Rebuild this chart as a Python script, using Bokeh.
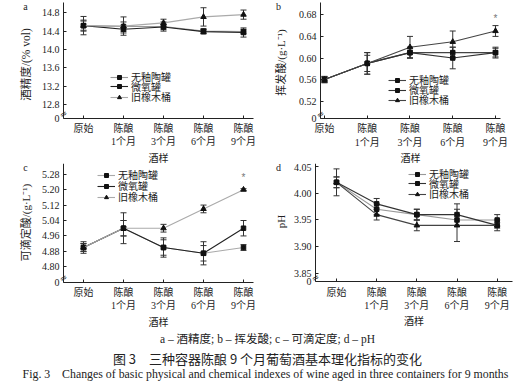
import math
from bokeh.plotting import figure
from bokeh.layouts import column, row
from bokeh.models import (FixedTicker, PrintfTickFormatter, Range1d, Whisker, TeeHead,
                          ColumnDataSource, Legend, LegendItem, Label, LinearAxis, Grid)
from bokeh.embed import file_html
from bokeh.resources import INLINE

# ---------------- data ----------------
stages = ["原始", "陈酿\n1个月", "陈酿\n3个月", "陈酿\n6个月", "陈酿\n9个月"]
xpos = [0, 1, 2, 3, 4]
series_names = ["无釉陶罐", "微氧罐", "旧橡木桶"]

a_tao = [14.52, 14.50, 14.50, 14.40, 14.39]
a_tao_err = [0.20, 0.10, 0.10, 0.05, 0.05]
a_mo = [14.52, 14.44, 14.49, 14.39, 14.37]
a_mo_err = [0.12, 0.08, 0.06, 0.05, 0.10]
a_oak = [14.52, 14.51, 14.58, 14.71, 14.76]
a_oak_err = [0.10, 0.20, 0.08, 0.20, 0.10]
a_ticks = [12.8, 13.2, 13.6, 14.0, 14.4, 14.8]

b_tao = [0.56, 0.59, 0.61, 0.61, 0.61]
b_tao_err = [0.005, 0.015, 0.01, 0.01, 0.01]
b_mo = [0.56, 0.59, 0.61, 0.60, 0.61]
b_mo_err = [0.005, 0.02, 0.01, 0.02, 0.008]
b_oak = [0.56, 0.59, 0.62, 0.63, 0.65]
b_oak_err = [0.006, 0.02, 0.02, 0.02, 0.01]
b_oak_sig = ["", "", "", "", "*"]
b_ticks = [0.52, 0.56, 0.60, 0.64, 0.68]

c_tao = [4.90, 5.00, 4.90, 4.87, 4.90]
c_tao_err = [0.03, 0.08, 0.05, 0.06, 0.015]
c_mo = [4.90, 5.00, 4.90, 4.87, 5.00]
c_mo_err = [0.02, 0.04, 0.04, 0.04, 0.04]
c_oak = [4.90, 5.00, 5.00, 5.10, 5.20]
c_oak_err = [0.02, 0.04, 0.02, 0.02, 0.005]
c_oak_sig = ["", "", "", "", "*"]
c_ticks = [4.80, 4.88, 4.96, 5.04, 5.12, 5.20, 5.28]

d_tao = [4.02, 3.97, 3.96, 3.95, 3.95]
d_tao_err = [0.025, 0.01, 0.01, 0.01, 0.01]
d_mo = [4.02, 3.98, 3.96, 3.96, 3.94]
d_mo_err = [0.01, 0.01, 0.01, 0.02, 0.01]
d_oak = [4.02, 3.96, 3.94, 3.94, 3.94]
d_oak_err = [0.01, 0.01, 0.01, 0.03, 0.005]
d_ticks = [3.85, 3.90, 3.95, 4.00, 4.05]

caption1 = "a – 酒精度; b – 挥发酸; c – 可滴定度; d – pH"
caption2 = "图 3\u2003三种容器陈酿 9 个月葡萄酒基本理化指标的变化"
caption3 = "Fig. 3\u2003Changes of basic physical and chemical indexes of wine aged in three containers for 9 months"

SERIF = "Liberation Serif, Noto Sans CJK SC"
CJK = "Noto Sans CJK SC"
INK = "#222222"


def text_legend(p, renderers, label, x, yc):
    """A one-item legend whose row is centred yc px above the canvas bottom."""
    leg = Legend(items=[LegendItem(label=label, renderers=renderers)],
                 location=(x, yc - 7), border_line_color=None,
                 background_fill_alpha=0, label_text_font=SERIF,
                 label_text_font_size="10px", label_text_color=INK,
                 glyph_width=18, glyph_height=10, label_height=14,
                 spacing=0, padding=0, margin=0, label_standoff=3)
    p.add_layout(leg)


def style_axis(ax):
    ax.major_tick_in = 3
    ax.major_tick_out = 0
    ax.minor_tick_line_color = None
    ax.axis_line_color = INK
    ax.major_tick_line_color = INK
    ax.major_label_text_font = SERIF
    ax.major_label_text_font_size = "10px"
    ax.major_label_text_color = INK
    ax.axis_label_text_font = SERIF
    ax.axis_label_text_font_style = "normal"
    ax.axis_label_text_color = INK


def make_panel(tag, ylabel, series, colors, ticks, fmt, yr, xr, ybounds, xbounds,
               height, leg_x, leg_rows, tag_xy, ylab_xy, ylab_size, sig=None):
    p = figure(width=265, height=height, toolbar_location=None, output_backend="svg",
               x_range=Range1d(*xr), y_range=Range1d(*yr),
               x_axis_location=None, y_axis_location=None, min_border=0)
    p.outline_line_color = None
    for r in p.center:
        if isinstance(r, Grid):
            r.visible = False

    xax = LinearAxis(fixed_location=ybounds[0], bounds=xbounds,
                     ticker=FixedTicker(ticks=xpos),
                     major_label_overrides={x: s for x, s in zip(xpos, stages)})
    style_axis(xax)
    xax.major_label_standoff = 5
    xax.axis_label = "酒样"
    xax.axis_label_text_font_size = "10px"
    xax.axis_label_standoff = 2
    p.add_layout(xax, "below")

    yax = LinearAxis(fixed_location=xbounds[0], bounds=ybounds,
                     ticker=FixedTicker(ticks=[ybounds[0]] + ticks),
                     formatter=PrintfTickFormatter(format=fmt),
                     major_label_overrides={ybounds[0]: "0"})
    style_axis(yax)
    yax.major_label_standoff = 4
    p.add_layout(yax, "left")
    # y-axis title, placed beside the axis
    p.add_layout(Label(x=ylab_xy[0], y=ylab_xy[1], x_units="screen", y_units="screen",
                       text=ylabel, angle=math.pi / 2, text_font=SERIF,
                       text_font_size=ylab_size, text_align="center",
                       text_baseline="middle", text_color=INK))

    markers = ["square", "square", "triangle"]
    msizes = [4.5, 4.5, 5.5]
    for (vals, errs), name, col, mk, ms, yc in zip(series, series_names, colors, markers,
                                                    msizes, leg_rows):
        src = ColumnDataSource(dict(x=xpos, y=vals,
                                    u=[v + e for v, e in zip(vals, errs)],
                                    l=[v - e for v, e in zip(vals, errs)]))
        w = Whisker(base="x", upper="u", lower="l", source=src, line_color="#333333",
                    line_width=1,
                    upper_head=TeeHead(size=6, line_color="#333333", line_width=1),
                    lower_head=TeeHead(size=6, line_color="#333333", line_width=1))
        p.add_layout(w)
        lr = p.line("x", "y", source=src, line_color=col, line_width=1.1)
        sr = p.scatter("x", "y", source=src, marker=mk, size=ms, fill_color="#111111",
                       line_color="#111111")
        text_legend(p, [lr, sr], name, leg_x, yc)

    if sig is not None:
        vals, marks = sig
        p.text(x=xpos, y=vals, text=marks, y_offset=-7, text_align="center",
               text_baseline="bottom", text_font_size="10px", text_color="#777777")

    # panel tag
    p.add_layout(Label(x=tag_xy[0], y=tag_xy[1], x_units="screen", y_units="screen",
                       text=tag, text_font="Liberation Serif", text_font_size="10px",
                       text_baseline="middle", text_align="center", text_color=INK))
    # axis break mark
    p.add_layout(Label(x=xbounds[0], y=ybounds[0], y_offset=4, text="≈",
                       text_font="DejaVu Sans", text_font_size="9px", angle=0.6,
                       text_baseline="middle", text_align="center", text_color=INK))
    return p


pa = make_panel("a", "酒精度/(% vol)",
                [(a_tao, a_tao_err), (a_mo, a_mo_err), (a_oak, a_oak_err)],
                ["#999999", "#222222", "#aaaaaa"], a_ticks, "%.1f",
                (11.513, 15.068), (-2.075, 4.55), (12.5, 15.03), (-0.5, 4.25),
                163, 110, (86, 76.5, 66), (25, 157), (25, 99), "11.5px")
pb = make_panel("b", "挥发酸/(g·L⁻¹)",
                [(b_tao, b_tao_err), (b_mo, b_mo_err), (b_oak, b_oak_err)],
                ["#444444", "#333333", "#444444"], b_ticks, "%.2f",
                (0.4046, 0.7065), (-1.380, 4.819), (0.488, 0.703), (-0.094, 4.117),
                163, 123, (83, 73, 63), (13, 157), (15, 101), "11px",
                sig=(b_oak, b_oak_sig))
pc = make_panel("c", "可滴定酸/(g·L⁻¹)",
                [(c_tao, c_tao_err), (c_mo, c_mo_err), (c_oak, c_oak_err)],
                ["#aaaaaa", "#222222", "#aaaaaa"], c_ticks, "%.2f",
                (4.4853, 5.3355), (-2.075, 4.55), (4.72, 5.335), (-0.5, 4.25),
                164, 97, (152, 141, 130), (25, 160), (25, 105), "11px",
                sig=(c_oak, c_oak_sig))
pd = make_panel("d", "pH",
                [(d_tao, d_tao_err), (d_mo, d_mo_err), (d_oak, d_oak_err)],
                ["#999999", "#333333", "#444444"], d_ticks, "%.2f",
                (3.7502, 4.055), (-1.7675, 4.8295), (3.835, 4.055), (-0.523, 4.381),
                164, 143, (153, 143.5, 133), (13, 160), (15, 106), "11px")

cap = figure(width=530, height=61, toolbar_location=None, output_backend="svg",
             x_range=Range1d(0, 1), y_range=Range1d(0, 1), x_axis_location=None,
             y_axis_location=None, min_border=0)
cap.outline_line_color = None
for r in cap.center:
    if isinstance(r, Grid):
        r.visible = False
cap.add_layout(Label(x=267, y=50, x_units="screen", y_units="screen", text=caption1,
                     text_font=SERIF, text_font_size="11.5px", text_align="center",
                     text_baseline="middle", text_color=INK))
cap.add_layout(Label(x=267, y=30, x_units="screen", y_units="screen", text=caption2,
                     text_font=CJK, text_font_size="13px", text_align="center",
                     text_baseline="middle", text_color=INK))
cap.add_layout(Label(x=265, y=15, x_units="screen", y_units="screen", text=caption3,
                     text_font="Liberation Serif", text_font_size="11.85px",
                     text_align="center", text_baseline="middle", text_color=INK))

layout = column(row(pa, pb), row(pc, pd), cap)
open("out.html", "w").write(file_html(layout, INLINE))
